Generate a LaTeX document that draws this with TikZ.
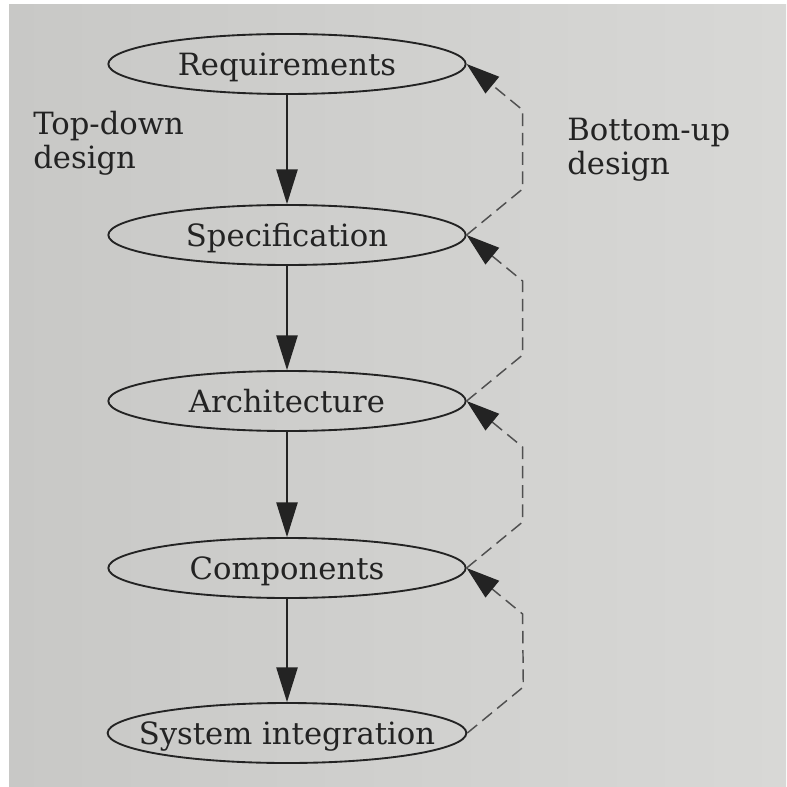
\documentclass[tikz,border=0pt]{standalone}
\usepackage{fontspec}
\setmainfont{DejaVu Serif}
\usetikzlibrary{shapes.geometric,arrows.meta}

\definecolor{paper}{RGB}{216,216,214}
\definecolor{paperdark}{RGB}{200,200,198}
\definecolor{ink}{RGB}{35,35,35}
\definecolor{dashink}{RGB}{80,80,80}

\tikzset{
  stage/.style={ellipse, draw=ink, line width=1.4pt, minimum width=268pt, minimum height=45pt,
    inner xsep=-16pt, inner ysep=0pt, text depth=0pt, font=\fontsize{23}{26}\selectfont, text=ink},
  sidetext/.style={anchor=base west, align=left, inner sep=0pt, font=\fontsize{23}{25.5}\selectfont, text=ink},
  topdown/.style={draw=ink, line width=1pt, -{Triangle[length=26pt,width=16pt]}},
  bottomup/.style={draw=dashink, line width=1.1pt, dash pattern=on 9.5pt off 5pt,
    -{Triangle[length=25pt,width=16pt,color=ink]}}
}

\begin{document}
\begin{tikzpicture}[x=0.75pt,y=0.75pt,yscale=-1,xscale=1]
    % page background
    \fill[white] (0,0) rectangle (787,787);
    \shade[left color=paperdark, right color=paper] (9,5) rectangle (786,786);
    \useasboundingbox (0,0) rectangle (787,787);

    % Stages
    \node[stage] (req) at (287,64) {Requirements};
    \node[stage] (spec) at (287,235) {Specification};
    \node[stage] (arch) at (287,401) {Architecture};
    \node[stage] (comp) at (287,568) {Components};
    \node[stage] (sys) at (287,733) {System integration};

    % Text Node (anchored on the second line)
    \node[sidetext] (tdtext) at (33,169) {Top-down\\design};
    % Text Node
    \node[sidetext] (butext) at (567,175) {Bottom-up\\design};

    % top-down arrows
    \draw[topdown] (req) -- (spec);
    \draw[topdown] (spec) -- (arch);
    \draw[topdown] (arch) -- (comp);
    \draw[topdown] (comp) -- (sys);

    % bottom-up arrows
    \foreach \lo/\up in {spec/req, arch/spec, comp/arch, sys/comp}
      \draw[bottomup] (\lo.east) -- ++(56,-46) -- ([shift={(56,46)}]\up.east) -- (\up.east);
\end{tikzpicture}
\end{document}
